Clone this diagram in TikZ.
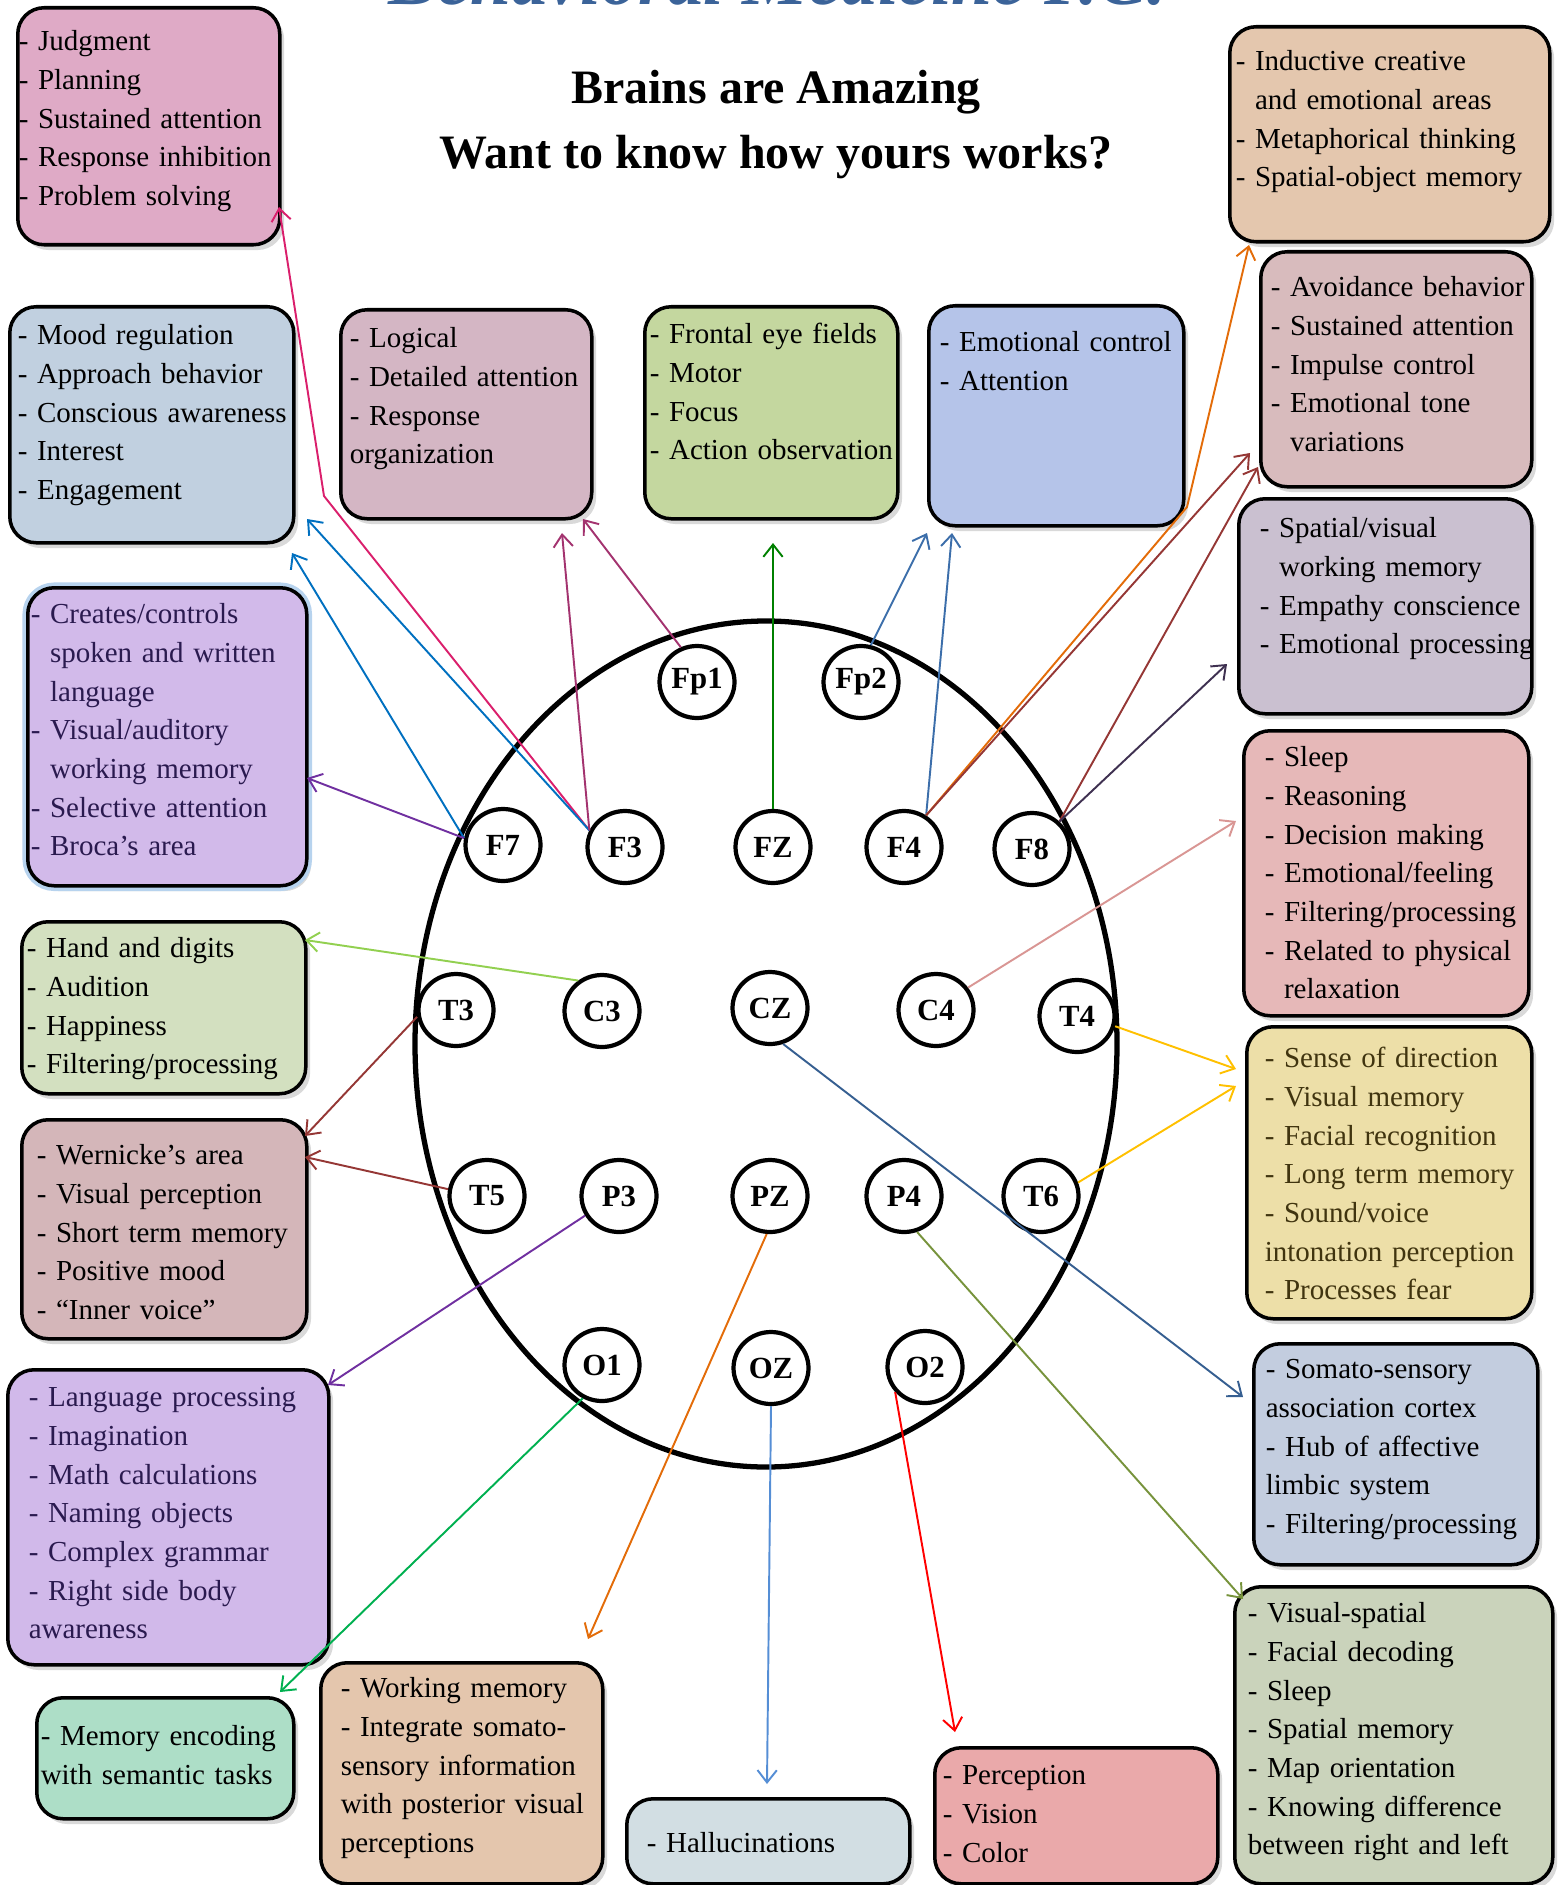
\documentclass[tikz,border=0pt]{standalone}
\usepackage{fontspec}
\setmainfont{Liberation Serif}
\usetikzlibrary{shapes.geometric, shadows, arrows.meta}

\newdimen\pxu \pxu=0.02cm
\newcommand{\items}[1]{\begin{tabular}[t]{@{}l@{}}#1\end{tabular}}
\newcommand{\ind}{\hphantom{- }}

% box fills
\definecolor{fJudg}{HTML}{DFAAC6}
\definecolor{fMood}{HTML}{C1D0E0}
\definecolor{fLogic}{HTML}{D4B6C4}
\definecolor{fFeye}{HTML}{C4D79F}
\definecolor{fEmot}{HTML}{B5C4E9}
\definecolor{fInduc}{HTML}{E4C7AE}
\definecolor{fAvoid}{HTML}{D8BBBD}
\definecolor{fSpat}{HTML}{CAC0D0}
\definecolor{fSleep}{HTML}{E6B8B8}
\definecolor{fSense}{HTML}{EDDFA8}
\definecolor{fSomato}{HTML}{C3CDDF}
\definecolor{fVisp}{HTML}{CAD3BB}
\definecolor{fPerc}{HTML}{EAA9AA}
\definecolor{fHall}{HTML}{D2DEE3}
\definecolor{fWmem}{HTML}{E4C6AD}
\definecolor{fMenc}{HTML}{ADDEC7}
\definecolor{fLang}{HTML}{D1B9EA}
\definecolor{fWern}{HTML}{D4B6B9}
\definecolor{fHand}{HTML}{D3E0C0}
\definecolor{fBroca}{HTML}{D2BAEA}
% connector colours
\definecolor{cJudg}{HTML}{DA1F6C}
\definecolor{cMood}{HTML}{0070C0}
\definecolor{cPurple}{HTML}{7030A0}
\definecolor{cLogic}{HTML}{A3336F}
\definecolor{cFeye}{HTML}{008000}
\definecolor{cEmot}{HTML}{3C6EAA}
\definecolor{cOrange}{HTML}{E36C09}
\definecolor{cBrown}{HTML}{953735}
\definecolor{cSpat}{HTML}{3F3151}
\definecolor{cSleep}{HTML}{D99694}
\definecolor{cSense}{HTML}{FFC000}
\definecolor{cSomato}{HTML}{365F91}
\definecolor{cVisp}{HTML}{77933C}
\definecolor{cPerc}{HTML}{FF0000}
\definecolor{cHall}{HTML}{558ED5}
\definecolor{cMenc}{HTML}{00B050}
\definecolor{cHand}{HTML}{92D050}
% texts
\definecolor{cBrand}{HTML}{3B6399}
\definecolor{tSense}{HTML}{40340F}
\definecolor{tPurple}{HTML}{2A1A4F}
\definecolor{cGlow}{HTML}{B7D3EE}

\begin{document}
\begin{tikzpicture}[x=0.02cm, y=-0.02cm,
    >={Straight Barb[length=7pt,width=11pt]},
    area/.style={draw=black, line width=2pt, rounded corners=15pt, fill=#1,
      anchor=north west, align=left, inner ysep=0pt,
      font=\fontsize{16.5}{22}\selectfont,
      drop shadow={shadow xshift=2.5pt, shadow yshift=-3pt, opacity=0.3}},
    dims/.style n args={4}{inner xsep=#1\pxu, text width=#2\pxu,
      text height=#3\pxu, text depth=#4\pxu},
    elec/.style={draw, ellipse, fill=white, line width=2.4pt, inner sep=0pt,
      minimum width=75\pxu, minimum height=72\pxu,
      font=\bfseries\fontsize{17.5}{18}\selectfont},
    link/.style={->, line width=1.1pt}]
  \path[use as bounding box, clip] (0,0) rectangle (1562,1885);

  % titles
  \node[font=\bfseries\itshape\fontsize{42}{42}\selectfont, text=cBrand, anchor=base] (brand) at (777,5) {Behavioral Medicine P.C.};
  \node[font=\bfseries\fontsize{27.3}{37}\selectfont, align=center] (title) at (776,125) {Brains are Amazing\\Want to know how yours works?};

  % head and electrodes
  \node[draw, ellipse, line width=3pt, minimum width=702\pxu, minimum height=846\pxu] (head) at (766,1044) {};
  \foreach \n/\x/\y in {Fp1/697/682, Fp2/861/682, F7/503/845, F3/625/847, FZ/773/847, F4/904/847, F8/1032/849,
      T3/456/1010, C3/602/1011, CZ/770/1008, C4/936/1010, T4/1077/1016,
      T5/487/1196, P3/619/1196, PZ/770/1196, P4/904/1196, T6/1041/1196,
      O1/602/1365, OZ/771/1368, O2/925/1367}
    \node[elec] (\n) at (\x,\y) {\n};

  % boxes, left side
  \node[area=fJudg, dims={1}{260}{43}{194}] (judg) at (16,6) {\items{- Judgment\\- Planning\\- Sustained attention\\- Response inhibition\\- Problem solving}};
  \node[area=fMood, dims={8}{268}{38}{198}] (mood) at (8,305) {\items{- Mood regulation\\- Approach behavior\\- Conscious awareness\\- Interest\\- Engagement}};
  \node[area=fBroca, text=tPurple, dims={3}{273}{36}{262}, preaction={draw=cGlow, line width=6pt}] (broca) at (26,586) {\items{- Creates/controls\\\ind spoken and written\\\ind language\\- Visual/auditory\\\ind working memory\\- Selective attention\\- Broca's area}};
  \node[area=fHand, dims={5}{274}{36}{136}] (hand) at (20,920) {\items{- Hand and digits\\- Audition\\- Happiness\\- Filtering/processing}};
  \node[area=fWern, dims={15}{255}{45}{174}] (wern) at (20,1118) {\items{- Wernicke's area\\- Visual perception\\- Short term memory\\- Positive mood\\- ``Inner voice''}};
  \node[area=fLang, text=tPurple, dims={21}{279}{37}{258}] (lang) at (6,1368) {\items{- Language processing\\- Imagination\\- Math calculations\\- Naming objects\\- Complex grammar\\- Right side body\\awareness}};
  \node[area=fMenc, dims={4}{249}{48}{73}] (menc) at (35,1696) {\items{- Memory encoding\\with semantic tasks}};

  % boxes, top row
  \node[area=fLogic, dims={9}{233}{38}{171}] (logic) at (339,308) {\items{- Logical\\- Detailed attention\\- Response\\organization}};
  \node[area=fFeye, dims={5}{243}{37}{175}] (feye) at (643,305) {\items{- Frontal eye fields\\- Motor\\- Focus\\- Action observation}};
  \node[area=fEmot, dims={11}{233}{46}{174}] (emot) at (927,304) {\items{- Emotional control\\- Attention}};

  % boxes, right side
  \node[area=fInduc, dims={6}{308}{44}{171}] (induc) at (1228,25) {\items{- Inductive creative\\\ind and emotional areas\\- Metaphorical thinking\\- Spatial-object memory}};
  \node[area=fAvoid, dims={10}{251}{45}{190}] (avoid) at (1259,250) {\items{- Avoidance behavior\\- Sustained attention\\- Impulse control\\- Emotional tone\\\ind variations}};
  \node[area=fSpat, dims={21}{251}{39}{176}] (spat) at (1237,497) {\items{- Spatial/visual\\\ind working memory\\- Empathy conscience\\- Emotional processing}};
  \node[area=fSleep, dims={21}{243}{36}{249}] (sleep) at (1242,729) {\items{- Sleep\\- Reasoning\\- Decision making\\- Emotional/feeling\\- Filtering/processing\\- Related to physical\\\ind relaxation}};
  \node[area=fSense, text=tSense, dims={18}{249}{41}{251}] (sense) at (1245,1025) {\items{- Sense of direction\\- Visual memory\\- Facial recognition\\- Long term memory\\- Sound/voice\\intonation perception\\- Processes fear}};
  \node[area=fSomato, dims={12}{260}{35}{186}] (somato) at (1252,1342) {\items{- Somato-sensory\\association cortex\\- Hub of affective\\limbic system\\- Filtering/processing}};
  \node[area=fVisp, dims={13}{292}{36}{261}] (visp) at (1233,1585) {\items{- Visual-spatial\\- Facial decoding\\- Sleep\\- Spatial memory\\- Map orientation\\- Knowing difference\\between right and left}};

  % boxes, bottom row
  \node[area=fHall, dims={20}{243}{54}{31}] (hall) at (625,1797) {\items{- Hallucinations}};
  \node[area=fPerc, dims={8}{267}{37}{99}] (perc) at (933,1746) {\items{- Perception\\- Vision\\- Color}};
  \node[area=fWmem, dims={20}{242}{35}{186}] (wmem) at (319,1661) {\items{- Working memory\\- Integrate somato-\\sensory information\\with posterior visual\\perceptions}};

  % arrow tips
  \coordinate (kJudg) at (324,496);
  \coordinate (tJudg) at (279,207);
  \coordinate (tMoodA) at (307,519);
  \coordinate (tMoodB) at (292,553);
  \coordinate (tBroca) at (307,778);
  \coordinate (tLogicA) at (562,533);
  \coordinate (tLogicB) at (583,519);
  \coordinate (tFeye) at (773,543);
  \coordinate (tEmotA) at (927,533);
  \coordinate (tEmotB) at (952,533);
  \coordinate (kInduc) at (1187,507);
  \coordinate (tInduc) at (1249,245);
  \coordinate (tAvoidA) at (1250,453);
  \coordinate (tAvoidB) at (1258,467);
  \coordinate (tSpat) at (1227,664);
  \coordinate (tSleep) at (1236,821);
  \coordinate (tSenseA) at (1236,1069);
  \coordinate (tSenseB) at (1236,1086);
  \coordinate (tSomato) at (1243,1397);
  \coordinate (tVisp) at (1243,1599);
  \coordinate (tPerc) at (955,1732);
  \coordinate (tHall) at (767,1784);
  \coordinate (tWmem) at (588,1639);
  \coordinate (tMenc) at (280,1692);
  \coordinate (tLang) at (328,1385);
  \coordinate (tWernA) at (305,1157);
  \coordinate (tWernB) at (305,1136);
  \coordinate (tHand) at (305,940);

  % connectors
  \draw[link, cJudg] (F3.155) -- (kJudg) -- (tJudg);
  \draw[link, cMood] (F3.155) -- (tMoodA);
  \draw[link, cMood] (F7.170) -- (tMoodB);
  \draw[link, cPurple] (F7.170) -- (tBroca);
  \draw[link, cLogic] (F3.155) -- (tLogicA);
  \draw[link, cLogic] (Fp1.115) -- (tLogicB);
  \draw[link, cFeye] (FZ.north) -- (tFeye);
  \draw[link, cEmot] (Fp2.75) -- (tEmotA);
  \draw[link, cEmot] (F4.55) -- (tEmotB);
  \draw[link, cOrange] (F4.55) -- (kInduc) -- (tInduc);
  \draw[link, cBrown] (F4.55) -- (tAvoidA);
  \draw[link, cBrown] (F8.45) -- (tAvoidB);
  \draw[link, cSpat] (F8.45) -- (tSpat);
  \draw[link, cSleep] (C4.35) -- (tSleep);
  \draw[link, cSense] (T4.345) -- (tSenseA);
  \draw[link, cSense] (T6.20) -- (tSenseB);
  \draw[link, cSomato] (CZ.290) -- (tSomato);
  \draw[link, cVisp] (P4.290) -- (tVisp);
  \draw[link, cPerc] (O2.220) -- (tPerc);
  \draw[link, cHall] (OZ.south) -- (tHall);
  \draw[link, cOrange] (PZ.265) -- (tWmem);
  \draw[link, cMenc] (O1.240) -- (tMenc);
  \draw[link, cPurple] (P3.210) -- (tLang);
  \draw[link, cBrown] (T5.170) -- (tWernA);
  \draw[link, cBrown] (T3.190) -- (tWernB);
  \draw[link, cHand] (C3.128) -- (tHand);
\end{tikzpicture}
\end{document}
